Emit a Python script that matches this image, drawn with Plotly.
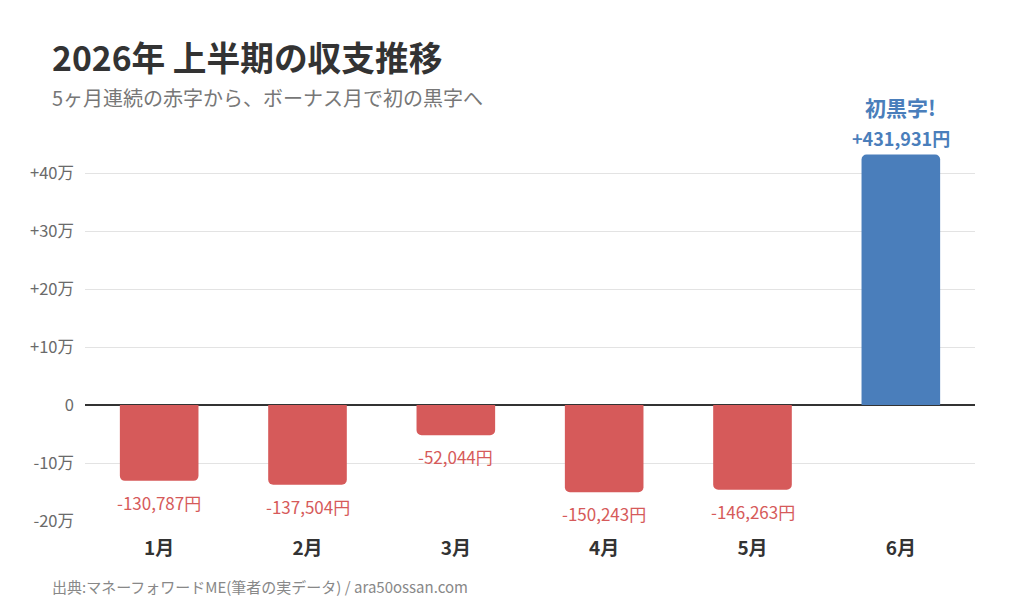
import plotly.graph_objects as go

months = ["1月", "2月", "3月", "4月", "5月", "6月"]
balance = [-130787, -137504, -52044, -150243, -146263, 431931]
tick_vals = [-200000, -100000, 0, 100000, 200000, 300000, 400000]
tick_text = ["-20万", "-10万", "0", "+10万", "+20万", "+30万", "+40万"]

RED = "#d65a5a"
BLUE = "#4a7ebb"
FONT = "Noto Sans CJK JP"

colors = [BLUE if v > 0 else RED for v in balance]

fig = go.Figure()
fig.add_trace(go.Bar(
    x=months, y=balance, marker=dict(color=colors, line=dict(width=0)),
    hoverinfo="skip", showlegend=False,
))

W, H = 1024, 614
L, R, T, B = 85, 49, 144, 93
ph = H - T - B
pw = W - L - R

def py(p):
    return (H - B - p) / ph

def px(p):
    return (p - L) / pw

annotations = []
for m, v in zip(months, balance):
    if v < 0:
        annotations.append(dict(
            x=m, y=v, xref="x", yref="y", text=f"-{abs(v):,}円",
            showarrow=False, yanchor="top", yshift=-7,
            font=dict(family=FONT, size=17, color=RED)))
    else:
        annotations.append(dict(
            x=m, y=v, xref="x", yref="y", text=f"<b>+{v:,}円</b>",
            showarrow=False, yanchor="bottom", yshift=1,
            font=dict(family=FONT, size=18, color=BLUE)))
        annotations.append(dict(
            x=m, y=v, xref="x", yref="y", text="<b>初黒字!</b>",
            showarrow=False, yanchor="bottom", yshift=30,
            font=dict(family=FONT, size=21, color=BLUE)))

annotations += [
    dict(x=px(50), y=py(56), xref="paper", yref="paper", xanchor="left", yanchor="middle",
         text="<b>2026年 上半期の収支推移</b>", showarrow=False,
         font=dict(family=FONT, size=33.7, color="#333333")),
    dict(x=px(50), y=py(97), xref="paper", yref="paper", xanchor="left", yanchor="middle",
         text="5ヶ月連続の赤字から、ボーナス月で初の黒字へ", showarrow=False,
         font=dict(family=FONT, size=20, color="#777777")),
    dict(x=px(50), y=py(586), xref="paper", yref="paper", xanchor="left", yanchor="middle",
         text="出典:マネーフォワードME(筆者の実データ) / ara50ossan.com", showarrow=False,
         font=dict(family=FONT, size=15, color="#888888")),
]

fig.update_layout(
    width=W, height=H,
    margin=dict(l=L, r=R, t=T, b=B),
    paper_bgcolor="white", plot_bgcolor="white",
    bargap=0.47, barcornerradius=5,
    font=dict(family=FONT),
    annotations=annotations,
    xaxis=dict(showgrid=False, showline=False, ticks="",
               tickfont=dict(family=FONT, size=19, color="#333333"),
               tickprefix="<b>", ticksuffix="</b>", ticklabelstandoff=14),
    yaxis=dict(range=[-200000, 450000], tickvals=tick_vals, ticktext=tick_text,
               showgrid=True, gridcolor="#e3e3e3", gridwidth=1,
               zeroline=True, zerolinecolor="#333333", zerolinewidth=2,
               showline=False, ticks="", ticklabelstandoff=10,
               tickfont=dict(family=FONT, size=16.5, color="#6a6a6a")),
)

fig.write_html("out.html")
